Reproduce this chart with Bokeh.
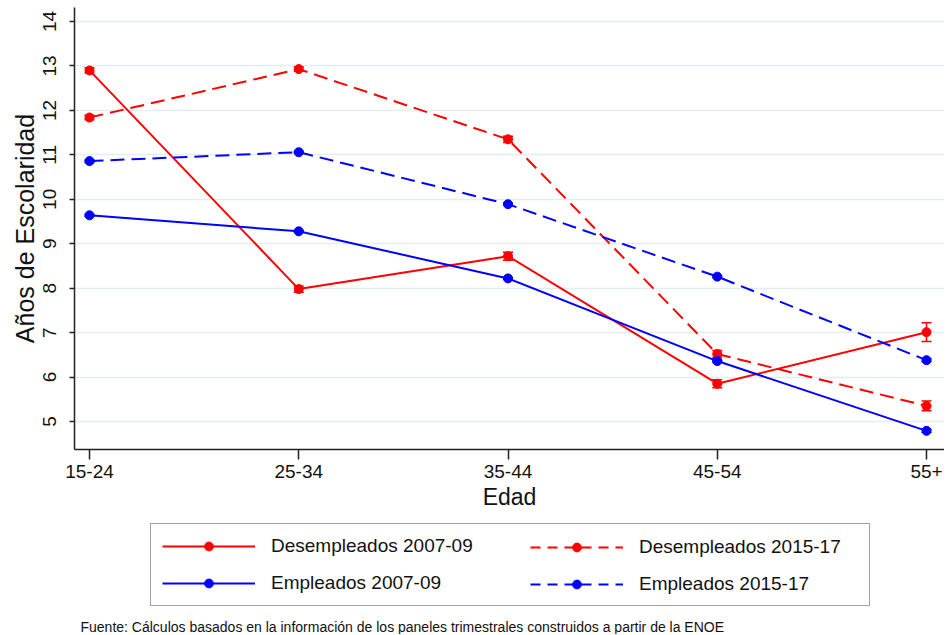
from bokeh.plotting import figure
from bokeh.layouts import column
from bokeh.models import (ColumnDataSource, Range1d, FixedTicker, Legend, LegendItem,
                          Whisker, TeeHead, Label)
from bokeh.embed import file_html
from bokeh.resources import INLINE

# ---- data ----
edades = ["15-24", "25-34", "35-44", "45-54", "55+"]
desemp_0709 = [12.90, 7.98, 8.72, 5.85, 7.01]
desemp_0709_err = [0.06, 0.07, 0.09, 0.09, 0.21]
desemp_1517 = [11.84, 12.93, 11.35, 6.52, 5.35]
desemp_1517_err = [0.05, 0.05, 0.07, 0.08, 0.11]
emp_0709 = [9.64, 9.28, 8.22, 6.36, 4.79]
emp_0709_err = [0.02, 0.02, 0.02, 0.02, 0.03]
emp_1517 = [10.86, 11.06, 9.89, 8.26, 6.38]
emp_1517_err = [0.02, 0.02, 0.02, 0.02, 0.03]
y_ticks = [5, 6, 7, 8, 9, 10, 11, 12, 13, 14]
x_title = "Edad"
y_title = "Años de Escolaridad"
footnote = "Fuente: Cálculos basados en la información de los paneles trimestrales construidos a partir de la ENOE"

FONT = "Liberation Sans"
RED = "#ff0000"
BLUE = "#0000ff"
W = 944

xpos = list(range(len(edades)))

p = figure(width=W, height=520, output_backend="svg", toolbar_location=None,
           x_range=Range1d(-0.0717, 4.086), y_range=Range1d(4.37, 14.316),
           min_border_left=74, min_border_right=0, min_border_top=7, min_border_bottom=71)
p.outline_line_color = None
p.background_fill_color = "white"
p.border_fill_color = "white"

# grid
p.xgrid.visible = False
p.ygrid.grid_line_color = "#e4eef0"
p.ygrid.grid_line_width = 1.5
p.ygrid.bounds = (5, 13)

# axes
p.yaxis.ticker = FixedTicker(ticks=y_ticks)
p.xaxis.ticker = FixedTicker(ticks=xpos)
p.xaxis.major_label_overrides = {i: lab for i, lab in enumerate(edades)}
for ax in (p.xaxis[0], p.yaxis[0]):
    ax.axis_line_color = "#222222"
    ax.axis_line_width = 1.5
    ax.major_tick_line_color = "#222222"
    ax.major_tick_line_width = 1.5
    ax.minor_tick_line_color = None
    ax.major_tick_in = 0
    ax.major_label_text_font = FONT
    ax.major_label_text_font_size = "19px"
    ax.major_label_text_color = "#111111"
    ax.axis_label_text_font = FONT
    ax.axis_label_text_font_style = "normal"
    ax.axis_label_text_color = "#111111"

p.yaxis.major_tick_out = 5
p.yaxis.major_label_orientation = "vertical"
p.yaxis.major_label_standoff = 13
p.yaxis.axis_label = y_title
p.yaxis.axis_label_text_font_size = "25px"
p.yaxis.axis_label_standoff = 2

p.xaxis.major_tick_out = 10
p.xaxis.major_label_standoff = 5
p.xaxis.axis_label = x_title
p.xaxis.axis_label_text_font_size = "23px"
p.xaxis.axis_label_standoff = 3

series = [
    ("Desempleados 2007-09", desemp_0709, desemp_0709_err, RED, "solid"),
    ("Desempleados 2015-17", desemp_1517, desemp_1517_err, RED, "14 7"),
    ("Empleados 2007-09", emp_0709, emp_0709_err, BLUE, "solid"),
    ("Empleados 2015-17", emp_1517, emp_1517_err, BLUE, "14 7"),
]

# ---- legend / note panel ----
q = figure(width=W, height=114, output_backend="svg", toolbar_location=None,
           x_range=Range1d(0, 1), y_range=Range1d(0, 1),
           x_axis_type=None, y_axis_type=None,
           min_border_left=0, min_border_right=0, min_border_top=0, min_border_bottom=0)
q.outline_line_color = None
q.xgrid.visible = False
q.ygrid.visible = False
q.border_fill_color = "white"

NAN = float("nan")
items = {}
for name, vals, errs, color, dash in series:
    src = ColumnDataSource(dict(
        x=xpos, y=vals,
        lower=[v - e for v, e in zip(vals, errs)],
        upper=[v + e for v, e in zip(vals, errs)],
    ))
    p.line("x", "y", source=src, line_color=color, line_width=2, line_dash=dash)
    w = Whisker(source=src, base="x", lower="lower", upper="upper", dimension="height",
                line_color=color, line_width=1.5,
                upper_head=TeeHead(size=10, line_color=color, line_width=1.5),
                lower_head=TeeHead(size=10, line_color=color, line_width=1.5))
    p.add_layout(w)
    p.scatter("x", "y", source=src, size=9, marker="circle",
              fill_color=color, line_color=color)
    # legend keys (style only; a single NaN point, nothing is drawn on the canvas)
    key = ColumnDataSource(dict(x=[NAN], y=[NAN]))
    key_dash = "solid" if dash == "solid" else "10 7"
    lk = q.line("x", "y", source=key, line_color=color, line_width=2, line_dash=key_dash)
    sk = q.scatter("x", "y", source=key, size=9, marker="circle",
                   fill_color=color, line_color=color)
    items[name] = LegendItem(label=name, renderers=[lk, sk])

common = dict(glyph_width=93, glyph_height=22, label_standoff=16, spacing=15, padding=11,
              label_text_font=FONT, label_text_font_size="19px", label_text_color="#111111",
              margin=0)

leg1 = Legend(items=[items["Desempleados 2007-09"], items["Empleados 2007-09"]],
              location=(76, 28), label_width=587,
              border_line_color="#444444", border_line_width=1.5,
              background_fill_color="white", background_fill_alpha=1.0, **common)
leg2 = Legend(items=[items["Desempleados 2015-17"], items["Empleados 2015-17"]],
              location=(445, 28),
              border_line_alpha=0, background_fill_alpha=0, **common)
q.add_layout(leg1, "center")
q.add_layout(leg2, "center")

note = Label(x=6, y=8, x_units="screen", y_units="screen", text=footnote,
             text_font=FONT, text_font_size="14px", text_color="#111111",
             text_baseline="middle")
q.add_layout(note)

layout = column(p, q, spacing=0)
open("out.html", "w").write(file_html(layout, INLINE))
